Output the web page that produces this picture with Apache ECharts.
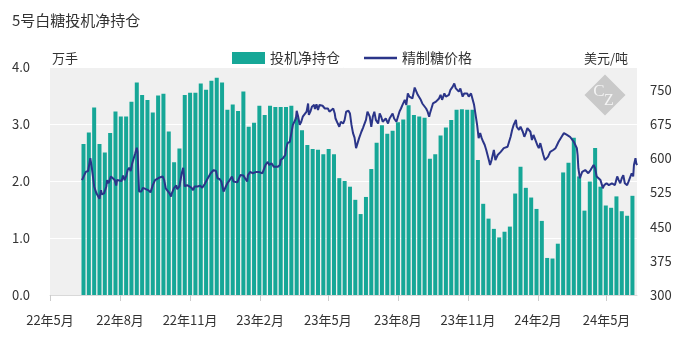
<!DOCTYPE html>
<html>
<head>
<meta charset="utf-8">
<script src="https://cdn.jsdelivr.net/npm/echarts@6/dist/echarts.min.js"></script>
<style>html,body{margin:0;padding:0;background:#fff;}#c{width:686px;height:340px;}</style>
</head>
<body>
<div id="c"></div>
<script>
const titleText = '5号白糖投机净持仓';
const seriesNames = ['投机净持仓', '精制糖价格'];
const leftAxisName = '万手';
const rightAxisName = '美元/吨';
const xTickDates = ['2022-05-01','2022-08-01','2022-11-01','2023-02-01','2023-05-01','2023-08-01','2023-11-01','2024-02-01','2024-05-01'];
const xTickLabels = ['22年5月','22年8月','22年11月','23年2月','23年5月','23年8月','23年11月','24年2月','24年5月'];
const xMin = '2022-05-01';
const xMax = '2024-06-10';
const barStart = '2022-06-14';
const barValues = [2.65,2.85,3.29,2.65,2.50,2.84,3.22,3.13,3.13,3.39,
3.73,3.51,3.42,3.20,3.50,3.53,2.87,2.33,2.57,3.51,
3.55,3.55,3.71,3.60,3.76,3.81,3.73,3.25,3.34,3.23,
3.57,2.95,3.02,3.32,3.16,3.32,3.30,3.30,3.30,3.32,
3.12,2.89,2.63,2.56,2.55,2.47,2.56,2.47,2.05,2.00,
1.90,1.67,1.42,1.72,2.21,2.67,2.98,2.83,2.88,3.03,
3.08,3.33,3.16,3.13,3.11,2.39,2.47,2.80,2.94,3.07,
3.25,3.26,3.25,3.25,2.37,1.60,1.34,1.16,1.01,1.11,
1.20,1.78,2.25,1.88,1.71,1.51,1.30,0.65,0.64,0.90,
2.15,2.32,2.76,2.08,1.48,1.99,2.58,1.90,1.57,1.53,
1.73,1.47,1.39,1.74];
const priceDates = ['2022-06-12','2022-06-17','2022-06-20','2022-06-23','2022-06-25','2022-06-28','2022-07-01','2022-07-05','2022-07-07','2022-07-08',
'2022-07-11','2022-07-14','2022-07-15','2022-07-17','2022-07-20','2022-07-22','2022-07-25','2022-07-27','2022-07-28','2022-08-03',
'2022-08-05','2022-08-07','2022-08-09','2022-08-11','2022-08-13','2022-08-15','2022-08-17','2022-08-19','2022-08-21','2022-08-23',
'2022-08-24','2022-08-26','2022-08-29','2022-08-31','2022-09-02','2022-09-04','2022-09-07','2022-09-10','2022-09-13','2022-09-16',
'2022-09-18','2022-09-21','2022-09-23','2022-09-26','2022-09-28','2022-09-30','2022-10-02','2022-10-05','2022-10-07','2022-10-08',
'2022-10-11','2022-10-14','2022-10-15','2022-10-18','2022-10-21','2022-10-23','2022-10-25','2022-10-28','2022-10-31','2022-11-03',
'2022-11-05','2022-11-07','2022-11-11','2022-11-14','2022-11-17','2022-11-20','2022-11-23','2022-11-25','2022-11-28','2022-12-02',
'2022-12-05','2022-12-07','2022-12-10','2022-12-12','2022-12-15','2022-12-18','2022-12-20','2022-12-23','2022-12-26','2022-12-28',
'2022-12-30','2023-01-02','2023-01-06','2023-01-08','2023-01-10','2023-01-13','2023-01-15','2023-01-16','2023-01-19','2023-01-22',
'2023-01-24','2023-01-27','2023-01-30','2023-02-01','2023-02-04','2023-02-06','2023-02-08','2023-02-11','2023-02-13','2023-02-16',
'2023-02-19','2023-02-21','2023-02-24','2023-02-27','2023-02-28','2023-03-03','2023-03-06','2023-03-07','2023-03-09','2023-03-12',
'2023-03-14','2023-03-16','2023-03-18','2023-03-20','2023-03-21','2023-03-23','2023-03-25','2023-03-27','2023-03-29','2023-03-31',
'2023-04-03','2023-04-05','2023-04-06','2023-04-08','2023-04-10','2023-04-13','2023-04-14','2023-04-16','2023-04-18','2023-04-20',
'2023-04-22','2023-04-24','2023-04-27','2023-04-29','2023-05-01','2023-05-03','2023-05-05','2023-05-08','2023-05-10','2023-05-11',
'2023-05-14','2023-05-16','2023-05-18','2023-05-21','2023-05-23','2023-05-25','2023-05-28','2023-05-30','2023-06-01','2023-06-03',
'2023-06-05','2023-06-07','2023-06-09','2023-06-11','2023-06-14','2023-06-16','2023-06-18','2023-06-20','2023-06-22','2023-06-25',
'2023-06-27','2023-06-29','2023-07-01','2023-07-03','2023-07-06','2023-07-08','2023-07-10','2023-07-12','2023-07-14','2023-07-16',
'2023-07-19','2023-07-21','2023-07-23','2023-07-25','2023-07-27','2023-07-30','2023-08-01','2023-08-03','2023-08-05','2023-08-07',
'2023-08-10','2023-08-12','2023-08-14','2023-08-16','2023-08-18','2023-08-20','2023-08-23','2023-08-25','2023-08-27','2023-08-29',
'2023-08-31','2023-09-02','2023-09-04','2023-09-07','2023-09-09','2023-09-11','2023-09-12','2023-09-14','2023-09-16','2023-09-17',
'2023-09-20','2023-09-22','2023-09-24','2023-09-26','2023-09-28','2023-10-01','2023-10-03','2023-10-05','2023-10-07','2023-10-09',
'2023-10-12','2023-10-14','2023-10-16','2023-10-18','2023-10-20','2023-10-22','2023-10-25','2023-10-27','2023-10-29','2023-10-31',
'2023-11-02','2023-11-05','2023-11-07','2023-11-09','2023-11-10','2023-11-12','2023-11-13','2023-11-15','2023-11-17','2023-11-19',
'2023-11-21','2023-11-23','2023-11-25','2023-11-26','2023-11-29','2023-11-30','2023-12-02','2023-12-03','2023-12-05','2023-12-07',
'2023-12-09','2023-12-10','2023-12-12','2023-12-14','2023-12-16','2023-12-18','2023-12-20','2023-12-23','2023-12-25','2023-12-27',
'2023-12-29','2023-12-31','2024-01-03','2024-01-04','2024-01-06','2024-01-07','2024-01-09','2024-01-12','2024-01-14','2024-01-16',
'2024-01-18','2024-01-20','2024-01-22','2024-01-24','2024-01-26','2024-01-28','2024-01-31','2024-02-02','2024-02-04','2024-02-06',
'2024-02-08','2024-02-10','2024-02-12','2024-02-14','2024-02-15','2024-02-17','2024-02-19','2024-02-21','2024-02-24','2024-02-26',
'2024-02-28','2024-03-01','2024-03-03','2024-03-06','2024-03-08','2024-03-10','2024-03-12','2024-03-14','2024-03-16','2024-03-19',
'2024-03-21','2024-03-23','2024-03-24','2024-03-25','2024-03-27','2024-03-28','2024-03-30','2024-04-01','2024-04-03','2024-04-05',
'2024-04-07','2024-04-10','2024-04-12','2024-04-14','2024-04-16','2024-04-18','2024-04-20','2024-04-23','2024-04-25','2024-04-26',
'2024-04-28','2024-04-30','2024-05-01','2024-05-04','2024-05-06','2024-05-08','2024-05-10','2024-05-12','2024-05-15','2024-05-17',
'2024-05-19','2024-05-21','2024-05-23','2024-05-25','2024-05-28','2024-05-30','2024-06-01','2024-06-03','2024-06-05','2024-06-06',
'2024-06-08','2024-06-09','2024-06-10'];
const priceValues = [552,570,572,600,578,538,523,511,530,521,
523,538,552,545,560,562,552,540,552,550,
562,552,560,574,579,572,589,600,611,623,
614,527,527,535,534,532,530,525,541,552,
556,557,560,560,552,534,532,523,516,523,
535,540,532,538,567,579,538,541,538,535,
530,538,538,540,535,543,552,549,567,574,
572,556,554,549,527,538,545,552,560,549,
547,547,563,567,562,554,549,563,570,567,
565,570,570,574,567,576,585,592,585,589,
581,579,581,585,596,600,607,620,633,636,
655,673,676,687,704,691,673,680,691,695,
702,720,695,702,713,717,708,718,706,717,
718,715,709,713,709,702,706,709,698,687,
676,669,680,676,684,702,704,698,673,655,
645,622,633,644,658,666,662,684,702,691,
669,691,702,684,676,698,691,680,684,687,
676,687,691,698,687,680,684,702,709,717,
728,717,742,735,739,731,755,756,739,742,
728,720,717,709,702,691,698,709,720,717,
724,720,731,739,728,742,735,731,739,750,
757,764,753,757,746,753,735,742,739,742,
735,742,739,717,706,702,673,644,655,644,
636,629,618,614,592,585,596,592,618,596,
600,607,603,614,618,622,618,625,636,647,
662,673,684,669,666,662,669,658,647,655,
666,662,658,640,651,647,629,622,633,636,
607,596,592,603,600,614,611,618,622,629,
636,640,647,655,655,651,655,647,644,636,
629,622,607,578,556,560,570,567,574,570,
567,574,578,585,578,560,556,552,541,534,
541,538,545,541,541,545,549,541,560,552,
545,556,563,545,541,549,552,567,560,585,
600,589,585];

function ts(s){ const p = s.split('-').map(Number); return new Date(p[0], p[1]-1, p[2]).getTime(); }
const bs = ts(barStart);
const barData = barValues.map((v,i)=>{ const d = new Date(bs); d.setDate(d.getDate()+7*i); return [d.getTime(), v]; });
const lineData = priceDates.map((d,i)=>[ts(d), priceValues[i]]);
const tickTs = xTickDates.map(ts);

const FONT = '"Noto Sans CJK SC", "Noto Sans", sans-serif';
const chart = echarts.init(document.getElementById('c'), null, {renderer:'canvas'});
chart.setOption({
  animation:false,
  textStyle:{fontFamily:FONT},
  title:{text:titleText,left:7,top:8,textStyle:{fontSize:15,fontWeight:'normal',color:'#333',fontFamily:FONT}},
  legend:{top:46,left:227,itemWidth:33,itemHeight:12,itemGap:24,
    textStyle:{fontSize:14,color:'#333',fontFamily:FONT},
    data:[{name:seriesNames[0],icon:'rect'},
          {name:seriesNames[1],icon:'path://M0,0 L30,0 L30,2.4 L0,2.4 Z',itemStyle:{color:'#2b3589'}}]},
  grid:{left:50,right:49,top:67,bottom:45,show:true,backgroundColor:'#f0f0f0',borderWidth:0},
  xAxis:{type:'value',min:ts(xMin),max:ts(xMax),
    axisLine:{show:true,onZero:false,lineStyle:{color:'#d9d9d9'}},
    axisTick:{show:true,length:6,lineStyle:{color:'#cccccc'},customValues:tickTs},
    axisLabel:{customValues:tickTs,fontSize:13,color:'#333',margin:19,fontFamily:FONT,
      formatter:function(v){ const i = tickTs.indexOf(v); return i>=0 ? xTickLabels[i] : ''; }},
    splitLine:{show:false}},
  yAxis:[
    {type:'value',min:0,max:4,interval:1,name:leftAxisName,nameLocation:'end',nameGap:2,
     nameTextStyle:{align:'left',fontSize:13,color:'#333',padding:[0,0,0,2]},
     axisLine:{show:false},axisTick:{show:false},
     axisLabel:{fontSize:13,color:'#333',margin:20,formatter:v=>v.toFixed(1)},
     splitLine:{show:true,lineStyle:{color:'#ffffff',width:1}}},
    {type:'value',min:300,max:800,interval:75,name:rightAxisName,nameLocation:'end',nameGap:2,
     nameTextStyle:{align:'right',fontSize:13,color:'#333',padding:[0,9,0,0]},
     axisLine:{show:false},axisTick:{show:false},
     axisLabel:{fontSize:13,color:'#333',margin:13,showMaxLabel:false},
     splitLine:{show:false}}
  ],
  series:[
    {name:seriesNames[0],type:'bar',yAxisIndex:0,data:barData,barWidth:4,itemStyle:{color:'#16a797'}},
    {name:seriesNames[1],type:'line',yAxisIndex:1,data:lineData,symbol:'none',showSymbol:false,
     lineStyle:{color:'#2b3589',width:2},itemStyle:{color:'#2b3589'}}
  ],
  graphic:[
    {type:'rect',x:605,y:95,rotation:Math.PI/4,shape:{x:-14.5,y:-14.5,width:29,height:29},style:{fill:'#c9c9c9'},z:1},
    {type:'text',x:599,y:92,z:2,style:{text:'C',fill:'#f4f4f4',font:'17px "Liberation Serif", serif',align:'center',verticalAlign:'middle'}},
    {type:'text',x:609,y:101,z:2,style:{text:'Z',fill:'#f4f4f4',font:'16px "Liberation Serif", serif',align:'center',verticalAlign:'middle'}}
  ]
});
</script>
</body>
</html>
